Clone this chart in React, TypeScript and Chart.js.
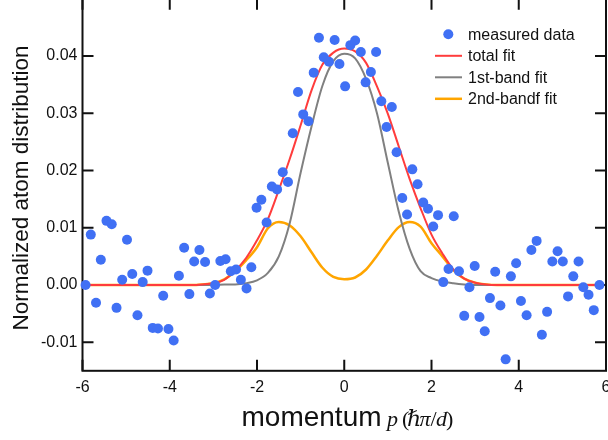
import React, { useEffect, useRef } from "react";
import { Chart, registerables } from "chart.js";

Chart.register(...registerables);

// ---- data ----
const dataX = [
  -5.93, -5.81, -5.69, -5.58, -5.45, -5.33, -5.22, -5.09, -4.98, -4.86,
  -4.74, -4.62, -4.51, -4.39, -4.27, -4.15, -4.03, -3.91, -3.79, -3.67,
  -3.55, -3.44, -3.32, -3.19, -3.08, -2.96, -2.84, -2.72, -2.6, -2.48,
  -2.37, -2.24, -2.13, -2.01, -1.9, -1.78, -1.66, -1.54, -1.41, -1.29,
  -1.18, -1.06, -0.94, -0.82, -0.7, -0.58, -0.47, -0.35, -0.22, -0.11,
  0.02, 0.14, 0.25, 0.38, 0.49, 0.61, 0.73, 0.85, 0.97, 1.09,
  1.2, 1.33, 1.44, 1.56, 1.68, 1.81, 1.92, 2.04, 2.15, 2.27,
  2.39, 2.51, 2.63, 2.75, 2.87, 2.99, 3.1, 3.22, 3.34, 3.46,
  3.58, 3.7, 3.82, 3.94, 4.05, 4.18, 4.29, 4.41, 4.53, 4.65,
  4.77, 4.89, 5.01, 5.13, 5.25, 5.37, 5.48, 5.6, 5.72, 5.85,
];
const dataY = [
  0.0, 0.0088, -0.0031, 0.0044, 0.0112, 0.0106, -0.004, 0.0009, 0.0079, 0.0019,
  -0.0053, 0.0005, 0.0025, -0.0075, -0.0076, -0.0019, -0.0077, -0.0097, 0.0016, 0.0065,
  -0.0016, 0.0041, 0.0061, 0.004, -0.0015, 0.0, 0.0042, 0.0045, 0.0024, 0.0027,
  0.0009, -0.0006, 0.0031, 0.0135, 0.0149, 0.0109, 0.0172, 0.0167, 0.0197, 0.018,
  0.0265, 0.0337, 0.0298, 0.0286, 0.0371, 0.0432, 0.0398, 0.039, 0.0428, 0.0386,
  0.0347, 0.0419, 0.0427, 0.0407, 0.0354, 0.0372, 0.0407, 0.0321, 0.0276, 0.0311,
  0.0232, 0.0152, 0.0123, 0.0202, 0.0176, 0.0144, 0.0133, 0.0102, 0.0122, 0.0005,
  0.0028, 0.012, 0.0024, -0.0054, -0.0004, 0.0033, -0.0056, -0.0081, -0.0023, 0.0023,
  -0.0036, -0.013, 0.0015, 0.0038, -0.0028, -0.0053, 0.0061, 0.0077, -0.0087, -0.0047,
  0.0041, 0.0059, 0.0041, -0.002, 0.0015, 0.0041, -0.0004, -0.0017, -0.0044, 0.0,
];

const fitX = [
  -5.92, -4.5, -3.5, -3.25, -3.0, -2.75, -2.5, -2.25, -2.0, -1.75, -1.5,
  -1.25, -1.0, -0.75, -0.5, -0.25, 0, 0.25, 0.5, 0.75, 1.0, 1.25,
  1.5, 1.75, 2.0, 2.25, 2.5, 2.75, 3.0, 3.25, 3.5, 4.5, 5.85,
];
const totalFit = [
  0, 0, 0, 0.0001, 0.0003, 0.0009, 0.0025, 0.0047, 0.0078, 0.0115, 0.0166,
  0.022, 0.0279, 0.034, 0.0385, 0.0406, 0.0413, 0.0408, 0.0388, 0.0347, 0.0299, 0.0242,
  0.0185, 0.0134, 0.0088, 0.0055, 0.0027, 0.0011, 0.0004, 0.0001, 0, 0, 0,
];
const band1Fit = [
  0, 0, 0, 0, 0, 0.0001, 0.0001, 0.0003, 0.0008, 0.0021, 0.005,
  0.0108, 0.0196, 0.0277, 0.0348, 0.0391, 0.0404, 0.0396, 0.036, 0.03, 0.0213, 0.0128,
  0.0063, 0.0024, 0.0012, 0.0006, 0.0003, 0.0001, 0, 0, 0, 0, 0,
];
const band2Fit = [
  0, 0, 0, 0.0001, 0.0003, 0.001, 0.0024, 0.0043, 0.0066, 0.0099, 0.011,
  0.0104, 0.0085, 0.0057, 0.003, 0.0014, 0.001, 0.0013, 0.0027, 0.0051, 0.0078, 0.0101,
  0.011, 0.0102, 0.0073, 0.005, 0.0026, 0.0011, 0.0004, 0.0001, 0, 0, 0,
];

const xTicks = [-6, -4, -2, 0, 2, 4, 6];
const yTicks = [-0.01, 0.0, 0.01, 0.02, 0.03, 0.04];
const seriesLabels = ["measured data", "total fit", "1st-band fit", "2nd-bandf fit"];
const yTitle = "Normalized atom distribution";
const xTitleWord = "momentum";

// ---- styling ----
const BLUE = "#4070f4";
const RED = "#ff3c3c";
const GRAY = "#808080";
const ORANGE = "#ffa500";
const INK = "#111111";
const SANS = '"Liberation Sans", Arial, Helvetica, sans-serif';
const SERIF = '"Liberation Serif", "DejaVu Serif", serif';

const W = 630;
const OFF = 20; // canvas shifted up so the top frame sits just off-page
const H = 440 + OFF;
const AREA_TOP = OFF - 1.2;
const AREA_BOTTOM = OFF + 370.8;

const pts = (xs: number[], ys: number[]) => xs.map((x, i) => ({ x, y: ys[i] }));

const framePlugin = {
  id: "frameAndDecor",
  beforeDatasetsDraw(chart: any) {
    const { ctx, chartArea: ca, scales } = chart;
    const xs = scales.x;
    const ys = scales.y;
    ctx.save();
    ctx.strokeStyle = INK;
    ctx.lineWidth = 2;
    ctx.strokeRect(ca.left, ca.top, ca.right - ca.left, ca.bottom - ca.top);
    ctx.beginPath();
    const TL = 11;
    xTicks.forEach((v) => {
      const px = xs.getPixelForValue(v);
      ctx.moveTo(px, ca.bottom);
      ctx.lineTo(px, ca.bottom - TL);
      ctx.moveTo(px, ca.top);
      ctx.lineTo(px, ca.top + TL);
    });
    yTicks.forEach((v) => {
      const py = ys.getPixelForValue(v);
      ctx.moveTo(ca.left, py);
      ctx.lineTo(ca.left + TL, py);
      ctx.moveTo(ca.right, py);
      ctx.lineTo(ca.right - TL, py);
    });
    ctx.stroke();
    ctx.restore();
  },
  afterDraw(chart: any) {
    const { ctx } = chart;
    const ds = chart.data.datasets;
    ctx.save();
    // legend
    const rowY = [34.3, 55.8, 77.3, 98.8].map((v) => v + OFF);
    ctx.font = `16px ${SANS}`;
    ctx.textBaseline = "middle";
    ctx.textAlign = "left";
    ds.forEach((d: any, i: number) => {
      const y = rowY[i];
      if (i === 0) {
        ctx.fillStyle = d.backgroundColor;
        ctx.beginPath();
        ctx.arc(448.3, y, 5, 0, Math.PI * 2);
        ctx.fill();
      } else {
        ctx.strokeStyle = d.borderColor;
        ctx.lineWidth = d.borderWidth;
        ctx.beginPath();
        ctx.moveTo(435, y);
        ctx.lineTo(462, y);
        ctx.stroke();
      }
      ctx.fillStyle = INK;
      ctx.fillText(d.label, 468, y + 1);
    });

    // y title
    ctx.save();
    ctx.translate(28, 188 + OFF);
    ctx.rotate(-Math.PI / 2);
    ctx.font = `22.5px ${SANS}`;
    ctx.textAlign = "center";
    ctx.textBaseline = "alphabetic";
    ctx.fillStyle = INK;
    ctx.fillText(yTitle, 0, 0);
    ctx.restore();

    // x title: "momentum p (ℏπ/d)"
    const base = 426 + OFF;
    ctx.textAlign = "left";
    ctx.textBaseline = "alphabetic";
    ctx.fillStyle = INK;
    ctx.font = `28px ${SANS}`;
    ctx.fillText(xTitleWord, 241.5, base);
    const parts: [string, boolean, number][] = [
      ["p", true, 387],
      ["(", false, 402],
      ["ℏ", true, 407],
      ["π", true, 419.5],
      ["/", false, 430.5],
      ["d", true, 436],
      [")", false, 446],
    ];
    parts.forEach(([t, it, px]) => {
      ctx.font = `${it ? "italic " : ""}22px ${SERIF}`;
      ctx.fillText(t, px, base);
    });
    ctx.restore();
  },
};

export default function App() {
  const ref = useRef<HTMLCanvasElement | null>(null);
  useEffect(() => {
    if (!ref.current) return;
    const lineDs = (label: string, ys: number[], color: string, width: number) => ({
      label,
      data: pts(fitX, ys),
      showLine: true,
      borderColor: color,
      backgroundColor: color,
      borderWidth: width,
      pointRadius: 0,
      pointHoverRadius: 0,
      cubicInterpolationMode: "monotone",
      fill: false,
      clip: false,
    });
    const chart = new Chart(ref.current, {
      type: "scatter",
      data: {
        datasets: [
          {
            label: seriesLabels[0],
            data: pts(dataX, dataY),
            showLine: false,
            backgroundColor: BLUE,
            borderColor: BLUE,
            pointBackgroundColor: BLUE,
            pointBorderWidth: 0,
            pointRadius: 5,
            clip: false,
          } as any,
          lineDs(seriesLabels[1], totalFit, RED, 2) as any,
          lineDs(seriesLabels[2], band1Fit, GRAY, 2) as any,
          lineDs(seriesLabels[3], band2Fit, ORANGE, 2.5) as any,
        ],
      },
      options: {
        responsive: false,
        animation: false,
        devicePixelRatio: 1,
        layout: { autoPadding: false, padding: { top: AREA_TOP, right: 24, left: 0, bottom: 0 } },
        plugins: { legend: { display: false }, tooltip: { enabled: false } },
        scales: {
          x: {
            type: "linear",
            min: -6,
            max: 6,
            afterBuildTicks: (s: any) => {
              s.ticks = xTicks.map((v) => ({ value: v }));
            },
            afterFit: (s: any) => {
              s.height = H - AREA_BOTTOM;
            },
            grid: { display: false, drawTicks: false },
            border: { display: false },
            ticks: {
              autoSkip: false,
              maxRotation: 0,
              padding: 7,
              color: INK,
              font: { family: SANS, size: 16 },
              callback: (v: any) => String(v),
            },
          },
          y: {
            type: "linear",
            min: -0.015,
            max: 0.05,
            afterBuildTicks: (s: any) => {
              s.ticks = yTicks.map((v) => ({ value: v }));
            },
            afterFit: (s: any) => {
              s.width = 82.5;
            },
            grid: { display: false, drawTicks: false },
            border: { display: false },
            ticks: {
              padding: 5,
              color: INK,
              font: { family: SANS, size: 16 },
              callback: (v: any) => Number(v).toFixed(2),
            },
          },
        },
      },
      plugins: [framePlugin],
    } as any);
    return () => chart.destroy();
  }, []);
  return (
    <div style={{ position: "fixed", left: 0, top: -OFF, width: W, height: H }}>
      <canvas ref={ref} width={W} height={H} style={{ display: "block", width: W, height: H }} />
    </div>
  );
}
